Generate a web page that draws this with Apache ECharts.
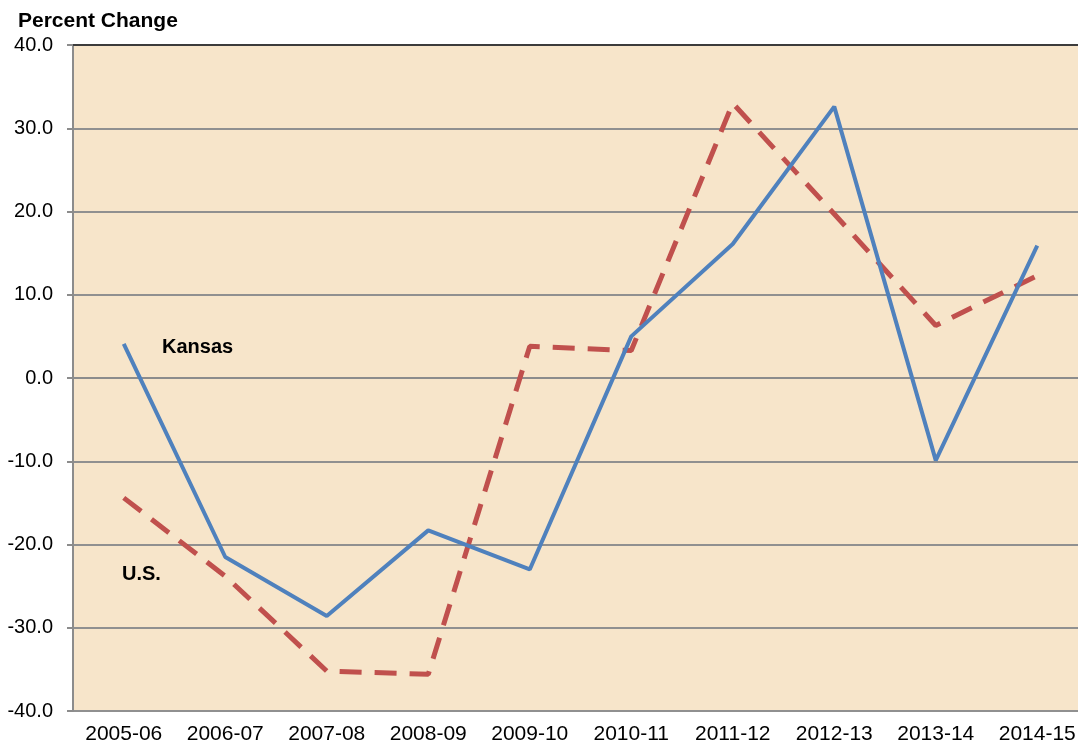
<!DOCTYPE html>
<html>
<head>
<meta charset="utf-8">
<title>Percent Change: Kansas vs U.S.</title>
<script src="https://cdn.jsdelivr.net/npm/echarts@6/dist/echarts.min.js"></script>
<style>
  html, body { margin: 0; padding: 0; background: #ffffff; }
  #chart { width: 1078px; height: 752px; }
</style>
</head>
<body>
<div id="chart"></div>
<script>
// Fiscal years on the category axis
const years = ['2005-06', '2006-07', '2007-08', '2008-09', '2009-10',
               '2010-11', '2011-12', '2012-13', '2013-14', '2014-15'];

// Year-over-year percent change
const kansas = [4.1, -21.5, -28.6, -18.3, -23.0, 5.0, 16.1, 32.6, -9.9, 15.9];
const us     = [-14.4, -23.8, -35.2, -35.6, 3.8, 3.3, 33.0, 19.7, 6.3, 12.3];

// Value axis range and step
const yMin = -40;
const yMax = 40;
const yStep = 10;

const FONT = '"Liberation Sans", Arial, sans-serif';

const chart = echarts.init(document.getElementById('chart'));

chart.setOption({
  animation: false,
  textStyle: { fontFamily: FONT },
  title: {
    text: 'Percent Change',
    left: 13,
    top: 6,
    textStyle: { fontFamily: FONT, fontSize: 21, fontWeight: 'bold', color: '#000' }
  },
  grid: {
    left: 73,
    top: 45,
    width: 1015,
    height: 666,
    outerBoundsMode: 'none',
    containLabel: false,
    show: true,
    backgroundColor: '#F7E5CA',
    borderWidth: 0
  },
  xAxis: [
    {
      type: 'category',
      data: years,
      boundaryGap: true,
      axisLine: { lineStyle: { color: '#8C8C8C', width: 2 } },
      axisTick: { alignWithLabel: true, length: 6, lineStyle: { color: '#8C8C8C', width: 2 } },
      axisLabel: { color: '#000', fontSize: 21, margin: 13, fontFamily: FONT, hideOverlap: false },
      splitLine: { show: false }
    },
    {
      type: 'category',
      position: 'top',
      data: years,
      axisLine: { lineStyle: { color: '#3C3C3C', width: 2 } },
      axisTick: { show: false },
      axisLabel: { show: false },
      splitLine: { show: false }
    }
  ],
  yAxis: {
    type: 'value',
    min: yMin,
    max: yMax,
    interval: yStep,
    axisLine: { show: true, lineStyle: { color: '#8C8C8C', width: 2 } },
    axisTick: { show: true, inside: false, length: 6, lineStyle: { color: '#8C8C8C', width: 2 } },
    axisLabel: {
      color: '#000',
      fontSize: 20,
      margin: 20,
      fontFamily: FONT,
      formatter: v => v.toFixed(1)
    },
    splitLine: { show: true, lineStyle: { color: '#909090', width: 2 } }
  },
  series: [
    {
      name: 'U.S.',
      type: 'line',
      data: us,
      symbol: 'none',
      lineStyle: { color: '#C0504D', width: 5, type: [22, 13], cap: 'butt' },
      z: 2
    },
    {
      name: 'Kansas',
      type: 'line',
      data: kansas,
      symbol: 'none',
      lineStyle: { color: '#4F81BD', width: 4 },
      z: 3
    }
  ],
  graphic: [
    {
      type: 'text',
      left: 162,
      top: 337,
      style: { text: 'Kansas', font: 'bold 20px ' + FONT, fill: '#000' }
    },
    {
      type: 'text',
      left: 122,
      top: 564,
      style: { text: 'U.S.', font: 'bold 20px ' + FONT, fill: '#000' }
    }
  ]
});
</script>
</body>
</html>
